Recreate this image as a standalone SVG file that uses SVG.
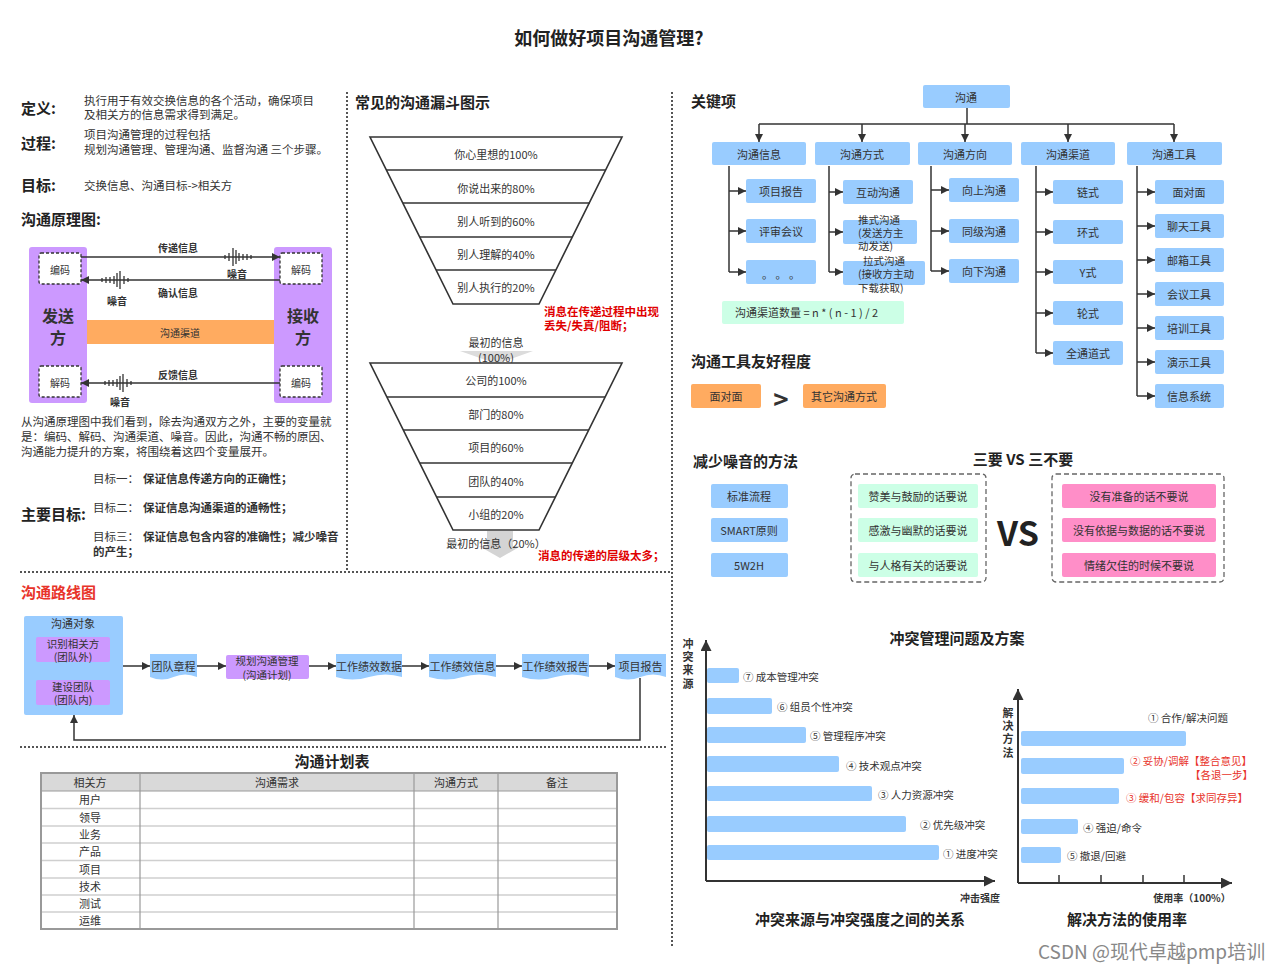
<svg xmlns="http://www.w3.org/2000/svg" width="1280" height="970" viewBox="0 0 1280 970">
<defs>
<style>
text{font-family:"Noto Sans CJK SC","Noto Sans",sans-serif;fill:#333;dominant-baseline:central}
.h{font-size:15px;font-weight:bold;fill:#222}
.s{font-size:11.5px}
.m{font-size:11px}
.sm{font-size:10.5px}
.xs{font-size:10px}
.bd{font-weight:bold}
.c{text-anchor:middle}
.vt{writing-mode:vertical-rl;letter-spacing:2.3px}
.blue{fill:#99ccff}
.purple{fill:#cc99ff}
.orange{fill:#ffab60}
.mint{fill:#ccffe6}
.pink{fill:#ff8ec8}
.ln{stroke:#333;stroke-width:1.5;fill:none}
.dot{stroke:#555;stroke-width:2;stroke-dasharray:2 2;fill:none}
.dash{stroke:#333;stroke-width:1.3;stroke-dasharray:3 2;fill:#fff}
.gdash{stroke:#666;stroke-width:1.3;stroke-dasharray:5 3;fill:none}
.red{fill:#e00000;font-weight:bold}
.fun{stroke:#333;stroke-width:1.6;fill:#fff}
.ax{stroke:#333;stroke-width:2;fill:none}
</style>
<marker id="ah" viewBox="0 0 10 10" refX="10" refY="5" markerWidth="8" markerHeight="8" markerUnits="userSpaceOnUse" orient="auto-start-reverse"><path d="M0,0 L10,5 L0,10 Z" fill="#333"/></marker>
<marker id="ahb" viewBox="0 0 10 10" refX="10" refY="5" markerWidth="11" markerHeight="11" markerUnits="userSpaceOnUse" orient="auto-start-reverse"><path d="M0,0 L10,5 L0,10 Z" fill="#333"/></marker>
<g id="noise" stroke="#333" stroke-width="1.3">
<line x1="0" y1="-2" x2="0" y2="2"/><line x1="4" y1="-4" x2="4" y2="4"/><line x1="8" y1="-9" x2="8" y2="9"/><line x1="11" y1="-7" x2="11" y2="7"/><line x1="14" y1="-4" x2="14" y2="4"/><line x1="18" y1="-3" x2="18" y2="3"/><line x1="22" y1="-3" x2="22" y2="3"/><line x1="26" y1="-2" x2="26" y2="2"/>
</g>
</defs>
<rect width="1280" height="970" fill="#fff"/>

<!-- title -->
<text x="609" y="37" class="c bd" style="font-size:18px;fill:#222">如何做好项目沟通管理?</text>

<!-- dividers -->
<g id="dividers">
<line class="dot" x1="347" y1="92" x2="347" y2="572"/>
<line class="dot" x1="672" y1="92" x2="672" y2="947"/>
<line class="dot" x1="20" y1="572" x2="672" y2="572"/>
<line class="dot" x1="20" y1="747" x2="668" y2="747"/>
</g>

<!-- definitions -->
<g id="definitions">
<text class="h" x="21" y="107">定义:</text>
<text class="s" x="84" y="100">执行用于有效交换信息的各个活动，确保项目</text>
<text class="s" x="84" y="114">及相关方的信息需求得到满足。</text>
<text class="h" x="21" y="142">过程:</text>
<text class="s" x="84" y="134">项目沟通管理的过程包括</text>
<text class="s" x="84" y="149">规划沟通管理、管理沟通、监督沟通 三个步骤。</text>
<text class="h" x="21" y="184">目标:</text>
<text class="s" x="84" y="185">交换信息、沟通目标-&gt;相关方</text>
<text class="h" x="21" y="218">沟通原理图:</text>
</g>

<!-- principle diagram -->
<g id="sender">
<rect class="purple" x="29" y="247" width="58" height="156" rx="3"/>
<text class="c bd" x="58" y="315" style="font-size:16px">发送</text>
<text class="c bd" x="58" y="337" style="font-size:16px">方</text>
</g>
<g id="receiver">
<rect class="purple" x="274" y="247" width="58" height="156" rx="3"/>
<text class="c bd" x="303" y="315" style="font-size:16px">接收</text>
<text class="c bd" x="303" y="337" style="font-size:16px">方</text>
</g>
<g id="encode-left"><rect class="dash" x="39" y="253" width="42" height="31" rx="2"/><text class="xs c" x="60" y="269">编码</text></g>
<g id="decode-left"><rect class="dash" x="39" y="366" width="42" height="31" rx="2"/><text class="xs c" x="60" y="382">解码</text></g>
<g id="decode-right"><rect class="dash" x="280" y="253" width="42" height="31" rx="2"/><text class="xs c" x="301" y="269">解码</text></g>
<g id="encode-right"><rect class="dash" x="280" y="366" width="42" height="31" rx="2"/><text class="xs c" x="301" y="382">编码</text></g>
<g id="channel"><rect class="orange" x="87" y="320" width="187" height="24"/><text class="xs c" x="180" y="332">沟通渠道</text></g>
<g id="principle-connectors">
<line class="ln" x1="81" y1="257" x2="280" y2="257" marker-end="url(#ah)"/>
<line class="ln" x1="280" y1="280" x2="81" y2="280" marker-end="url(#ah)"/>
<line class="ln" x1="280" y1="383" x2="81" y2="383" marker-end="url(#ah)"/>
<use href="#noise" x="225" y="257"/>
<use href="#noise" transform="translate(128,280) scale(-1,1)"/>
<use href="#noise" transform="translate(131,383) scale(-1,1)"/>
<text class="xs c bd" x="178" y="247">传递信息</text>
<text class="xs c bd" x="237" y="273">噪音</text>
<text class="xs c bd" x="178" y="292">确认信息</text>
<text class="xs c bd" x="117" y="300">噪音</text>
<text class="xs c bd" x="178" y="374">反馈信息</text>
<text class="xs c bd" x="120" y="401">噪音</text>
</g>

<g id="explain">
<text class="s" x="21" y="421">从沟通原理图中我们看到，除去沟通双方之外，主要的变量就</text>
<text class="s" x="21" y="436">是：编码、解码、沟通渠道、噪音。因此，沟通不畅的原因、</text>
<text class="s" x="21" y="451">沟通能力提升的方案，将围绕着这四个变量展开。</text>
</g>
<g id="main-goals">
<text class="h" x="21" y="513">主要目标:</text>
<text class="s" x="93" y="478">目标一：</text><text class="s bd" x="143" y="478">保证信息传递方向的正确性；</text>
<text class="s" x="93" y="507">目标二：</text><text class="s bd" x="143" y="507">保证信息沟通渠道的通畅性；</text>
<text class="s" x="93" y="536">目标三：</text><text class="s bd" x="143" y="536">保证信息包含内容的准确性；减少噪音</text>
<text class="s bd" x="93" y="551">的产生；</text>
</g>

<!-- funnel 1 -->
<text class="h" x="355" y="101">常见的沟通漏斗图示</text>
<g id="funnel1">
<polygon class="fun" points="370,137 622,137 539,304 453,304"/>
<line class="ln" x1="386" y1="170" x2="606" y2="170"/>
<line class="ln" x1="403" y1="203" x2="590" y2="203"/>
<line class="ln" x1="420" y1="237" x2="572" y2="237"/>
<line class="ln" x1="436" y1="270" x2="556" y2="270"/>
<text class="m c" x="496" y="154">你心里想的100%</text>
<text class="m c" x="496" y="188">你说出来的80%</text>
<text class="m c" x="496" y="221">别人听到的60%</text>
<text class="m c" x="496" y="254">别人理解的40%</text>
<text class="m c" x="496" y="287">别人执行的20%</text>
</g>
<text class="s red" x="544" y="311">消息在传递过程中出现</text>
<text class="s red" x="544" y="325">丢失/失真/阻断；</text>

<!-- funnel 2 -->
<g id="funnel2">
<polygon points="460,351 533,351 497,364" fill="#dcdcdc"/>
<text class="m c" x="496" y="342">最初的信息</text>
<text class="m c" x="496" y="357">(100%)</text>
<polygon class="fun" points="370,363 622,363 539,530 453,530"/>
<line class="ln" x1="387" y1="397" x2="605" y2="397"/>
<line class="ln" x1="403" y1="430" x2="589" y2="430"/>
<line class="ln" x1="420" y1="463" x2="572" y2="463"/>
<line class="ln" x1="437" y1="497" x2="555" y2="497"/>
<text class="m c" x="496" y="380">公司的100%</text>
<text class="m c" x="496" y="414">部门的80%</text>
<text class="m c" x="496" y="447">项目的60%</text>
<text class="m c" x="496" y="481">团队的40%</text>
<text class="m c" x="496" y="514">小组的20%</text>
<polygon points="487,531 513,531 513,546 521,546 500,558 479,546 487,546" fill="#d4d4d4"/>
<text class="m c" x="496" y="543">最初的信息（20%）</text>
</g>
<text class="s red" x="538" y="555">消息的传递的层级太多；</text>

<!-- key items tree -->
<text class="h" x="691" y="100">关键项</text>
<g id="n-root"><rect class="blue" x="923" y="85" width="87" height="23" rx="2"/><text class="m c" x="966" y="97">沟通</text></g>
<g id="n-info"><rect class="blue" x="712" y="142" width="94" height="23" rx="2"/><text class="m c" x="759" y="154">沟通信息</text></g>
<g id="n-mode"><rect class="blue" x="815" y="142" width="95" height="23" rx="2"/><text class="m c" x="862" y="154">沟通方式</text></g>
<g id="n-dir"><rect class="blue" x="918" y="142" width="94" height="23" rx="2"/><text class="m c" x="965" y="154">沟通方向</text></g>
<g id="n-chan"><rect class="blue" x="1021" y="142" width="94" height="23" rx="2"/><text class="m c" x="1068" y="154">沟通渠道</text></g>
<g id="n-tool"><rect class="blue" x="1127" y="142" width="95" height="23" rx="2"/><text class="m c" x="1174" y="154">沟通工具</text></g>

<g id="n-info-sub">
<rect class="blue" x="746" y="179" width="70" height="24" rx="2"/><text class="m c" x="781" y="191">项目报告</text>
<rect class="blue" x="746" y="219" width="70" height="24" rx="2"/><text class="m c" x="781" y="231">评审会议</text>
<rect class="blue" x="746" y="260" width="70" height="24" rx="2"/><text class="m c" x="781" y="274">。 。 。</text>
</g>
<g id="n-mode-sub">
<rect class="blue" x="843" y="180" width="70" height="24" rx="2"/><text class="m c" x="878" y="192">互动沟通</text>
<rect class="blue" x="843" y="220" width="74" height="24" rx="2"/>
<text class="sm" x="858" y="219">推式沟通</text><text class="sm" x="858" y="232">(发送方主</text><text class="sm" x="858" y="245">动发送)</text>
<rect class="blue" x="843" y="261" width="82" height="24" rx="2"/>
<text class="sm" x="863" y="260">拉式沟通</text><text class="sm" x="858" y="273">(接收方主动</text><text class="sm" x="858" y="287">下载获取)</text>
</g>
<g id="n-dir-sub">
<rect class="blue" x="949" y="178" width="70" height="24" rx="2"/><text class="m c" x="984" y="190">向上沟通</text>
<rect class="blue" x="949" y="219" width="70" height="24" rx="2"/><text class="m c" x="984" y="231">同级沟通</text>
<rect class="blue" x="949" y="259" width="70" height="24" rx="2"/><text class="m c" x="984" y="271">向下沟通</text>
</g>
<g id="n-chan-sub">
<rect class="blue" x="1053" y="180" width="70" height="24" rx="2"/><text class="m c" x="1088" y="192">链式</text>
<rect class="blue" x="1053" y="220" width="70" height="24" rx="2"/><text class="m c" x="1088" y="232">环式</text>
<rect class="blue" x="1053" y="260" width="70" height="24" rx="2"/><text class="m c" x="1088" y="272">Y式</text>
<rect class="blue" x="1053" y="301" width="70" height="24" rx="2"/><text class="m c" x="1088" y="313">轮式</text>
<rect class="blue" x="1053" y="341" width="70" height="24" rx="2"/><text class="m c" x="1088" y="353">全通道式</text>
</g>
<g id="n-tool-sub">
<rect class="blue" x="1155" y="180" width="69" height="24" rx="2"/><text class="m c" x="1189" y="192">面对面</text>
<rect class="blue" x="1155" y="214" width="69" height="24" rx="2"/><text class="m c" x="1189" y="226">聊天工具</text>
<rect class="blue" x="1155" y="248" width="69" height="24" rx="2"/><text class="m c" x="1189" y="260">邮箱工具</text>
<rect class="blue" x="1155" y="282" width="69" height="24" rx="2"/><text class="m c" x="1189" y="294">会议工具</text>
<rect class="blue" x="1155" y="316" width="69" height="24" rx="2"/><text class="m c" x="1189" y="328">培训工具</text>
<rect class="blue" x="1155" y="350" width="69" height="24" rx="2"/><text class="m c" x="1189" y="362">演示工具</text>
<rect class="blue" x="1155" y="384" width="69" height="24" rx="2"/><text class="m c" x="1189" y="396">信息系统</text>
</g>

<g id="tree-connectors">
<path class="ln" d="M967,108 V124 M759,124 H1174"/>
<line class="ln" x1="759" y1="124" x2="759" y2="142" marker-end="url(#ah)"/>
<line class="ln" x1="862" y1="124" x2="862" y2="142" marker-end="url(#ah)"/>
<line class="ln" x1="965" y1="124" x2="965" y2="142" marker-end="url(#ah)"/>
<line class="ln" x1="1068" y1="124" x2="1068" y2="142" marker-end="url(#ah)"/>
<line class="ln" x1="1174" y1="124" x2="1174" y2="142" marker-end="url(#ah)"/>
<path class="ln" d="M729,166 V272"/>
<line class="ln" x1="729" y1="191" x2="746" y2="191" marker-end="url(#ah)"/>
<line class="ln" x1="729" y1="231" x2="746" y2="231" marker-end="url(#ah)"/>
<line class="ln" x1="729" y1="272" x2="746" y2="272" marker-end="url(#ah)"/>
<path class="ln" d="M829,166 V272"/>
<line class="ln" x1="829" y1="192" x2="843" y2="192" marker-end="url(#ah)"/>
<line class="ln" x1="829" y1="232" x2="843" y2="232" marker-end="url(#ah)"/>
<line class="ln" x1="829" y1="272" x2="843" y2="272" marker-end="url(#ah)"/>
<path class="ln" d="M931,166 V271"/>
<line class="ln" x1="931" y1="190" x2="949" y2="190" marker-end="url(#ah)"/>
<line class="ln" x1="931" y1="231" x2="949" y2="231" marker-end="url(#ah)"/>
<line class="ln" x1="931" y1="271" x2="949" y2="271" marker-end="url(#ah)"/>
<path class="ln" d="M1036,166 V353"/>
<line class="ln" x1="1036" y1="192" x2="1053" y2="192" marker-end="url(#ah)"/>
<line class="ln" x1="1036" y1="232" x2="1053" y2="232" marker-end="url(#ah)"/>
<line class="ln" x1="1036" y1="272" x2="1053" y2="272" marker-end="url(#ah)"/>
<line class="ln" x1="1036" y1="313" x2="1053" y2="313" marker-end="url(#ah)"/>
<line class="ln" x1="1036" y1="353" x2="1053" y2="353" marker-end="url(#ah)"/>
<path class="ln" d="M1137,166 V396"/>
<line class="ln" x1="1137" y1="192" x2="1155" y2="192" marker-end="url(#ah)"/>
<line class="ln" x1="1137" y1="226" x2="1155" y2="226" marker-end="url(#ah)"/>
<line class="ln" x1="1137" y1="260" x2="1155" y2="260" marker-end="url(#ah)"/>
<line class="ln" x1="1137" y1="294" x2="1155" y2="294" marker-end="url(#ah)"/>
<line class="ln" x1="1137" y1="328" x2="1155" y2="328" marker-end="url(#ah)"/>
<line class="ln" x1="1137" y1="362" x2="1155" y2="362" marker-end="url(#ah)"/>
<line class="ln" x1="1137" y1="396" x2="1155" y2="396" marker-end="url(#ah)"/>
</g>

<g id="formula"><rect class="mint" x="722" y="301" width="182" height="23" rx="2"/><text class="m" x="735" y="312">沟通渠道数量 = n * ( n - 1 ) / 2</text></g>

<text class="h" x="691" y="360">沟通工具友好程度</text>
<g id="friendly">
<rect class="orange" x="691" y="384" width="70" height="24" rx="2"/><text class="m c" x="726" y="396">面对面</text>
<text class="c bd" x="781" y="397" style="font-size:26px">&gt;</text>
<rect class="orange" x="803" y="384" width="83" height="24" rx="2"/><text class="m c" x="844" y="396">其它沟通方式</text>
</g>

<!-- noise reduction -->
<text class="h" x="693" y="460">减少噪音的方法</text>
<g id="noise-methods">
<rect class="blue" x="711" y="484" width="77" height="24" rx="2"/><text class="m c" x="749" y="496">标准流程</text>
<rect class="blue" x="711" y="518" width="77" height="24" rx="2"/><text class="m c" x="749" y="530">SMART原则</text>
<rect class="blue" x="711" y="553" width="77" height="24" rx="2"/><text class="m c" x="749" y="565">5W2H</text>
</g>

<text class="h c" x="1023" y="458">三要 VS 三不要</text>
<g id="three-do">
<rect class="gdash" x="851" y="474" width="135" height="108" rx="4"/>
<rect class="mint" x="858" y="484" width="120" height="24" rx="2"/><text class="m c" x="918" y="496">赞美与鼓励的话要说</text>
<rect class="mint" x="858" y="518" width="120" height="24" rx="2"/><text class="m c" x="918" y="530">感激与幽默的话要说</text>
<rect class="mint" x="858" y="553" width="120" height="24" rx="2"/><text class="m c" x="918" y="565">与人格有关的话要说</text>
</g>
<text class="c bd" x="1018" y="531" style="font-size:34px;fill:#222">VS</text>
<g id="three-dont">
<rect class="gdash" x="1052" y="474" width="172" height="108" rx="4"/>
<rect class="pink" x="1062" y="484" width="154" height="24" rx="2"/><text class="m c" x="1139" y="496">没有准备的话不要说</text>
<rect class="pink" x="1062" y="518" width="154" height="24" rx="2"/><text class="m c" x="1139" y="530">没有依据与数据的话不要说</text>
<rect class="pink" x="1062" y="553" width="154" height="24" rx="2"/><text class="m c" x="1139" y="565">情绪欠佳的时候不要说</text>
</g>

<!-- roadmap -->
<text class="h" x="21" y="591" style="fill:#e8332a">沟通路线图</text>
<g id="r-target">
<rect class="blue" x="24" y="616" width="99" height="99" rx="2"/>
<text class="m c" x="73" y="623">沟通对象</text>
<rect class="purple" x="36" y="637" width="74" height="25" rx="2"/>
<text class="sm c" x="73" y="643">识别相关方</text><text class="sm c" x="73" y="656">(团队外)</text>
<rect class="purple" x="36" y="680" width="74" height="25" rx="2"/>
<text class="sm c" x="73" y="686">建设团队</text><text class="sm c" x="73" y="699">(团队内)</text>
</g>
<g id="r-charter"><path class="blue" d="M150,654 H197 V677 Q185,672 173.5,677 T150,677 Z"/><text class="m c" x="173.5" y="666">团队章程</text></g>
<g id="r-plan"><rect class="purple" x="226" y="655" width="83" height="24" rx="2"/><text class="sm c" x="267" y="660">规划沟通管理</text><text class="sm c" x="267" y="674">(沟通计划)</text></g>
<g id="r-data"><path class="blue" d="M336,654 H402 V677 Q385.5,672 369,677 T336,677 Z"/><text class="m c" x="369" y="666">工作绩效数据</text></g>
<g id="r-info"><path class="blue" d="M429,654 H496 V677 Q479,672 462.5,677 T429,677 Z"/><text class="m c" x="462.5" y="666">工作绩效信息</text></g>
<g id="r-report"><path class="blue" d="M522,654 H589 V677 Q572,672 555.5,677 T522,677 Z"/><text class="m c" x="555.5" y="666">工作绩效报告</text></g>
<g id="r-proj"><path class="blue" d="M615,654 H666 V677 Q653,672 640.5,677 T615,677 Z"/><text class="m c" x="640.5" y="666">项目报告</text></g>
<g id="roadmap-connectors">
<line class="ln" x1="123" y1="666" x2="150" y2="666" marker-end="url(#ah)"/>
<line class="ln" x1="197" y1="666" x2="226" y2="666" marker-end="url(#ah)"/>
<line class="ln" x1="309" y1="666" x2="336" y2="666" marker-end="url(#ah)"/>
<line class="ln" x1="402" y1="666" x2="429" y2="666" marker-end="url(#ah)"/>
<line class="ln" x1="496" y1="666" x2="522" y2="666" marker-end="url(#ah)"/>
<line class="ln" x1="589" y1="666" x2="615" y2="666" marker-end="url(#ah)"/>
<path class="ln" d="M640,678 V740 H74 V715" marker-end="url(#ah)"/>
</g>

<!-- table -->
<text class="h c" x="332" y="760">沟通计划表</text>
<g id="plan-table">
<rect x="41" y="773" width="576" height="18" fill="#d9d9d9"/>
<g stroke="#cfcfcf" stroke-width="1.5">
<line x1="41" y1="808.5" x2="617" y2="808.5"/>
<line x1="41" y1="826" x2="617" y2="826"/>
<line x1="41" y1="843" x2="617" y2="843"/>
<line x1="41" y1="860.5" x2="617" y2="860.5"/>
<line x1="41" y1="878" x2="617" y2="878"/>
<line x1="41" y1="895" x2="617" y2="895"/>
<line x1="41" y1="912" x2="617" y2="912"/>
</g>
<line x1="41" y1="791" x2="617" y2="791" stroke="#999" stroke-width="1.2"/>
<g stroke="#999" stroke-width="1.2">
<line x1="140" y1="773" x2="140" y2="929"/>
<line x1="414" y1="773" x2="414" y2="929"/>
<line x1="498" y1="773" x2="498" y2="929"/>
</g>
<rect x="41" y="773" width="576" height="156" fill="none" stroke="#999" stroke-width="2"/>
<text class="m c" x="90" y="782">相关方</text>
<text class="m c" x="277" y="782">沟通需求</text>
<text class="m c" x="456" y="782">沟通方式</text>
<text class="m c" x="557" y="782">备注</text>
<text class="m c" x="90" y="799">用户</text>
<text class="m c" x="90" y="817">领导</text>
<text class="m c" x="90" y="834">业务</text>
<text class="m c" x="90" y="851">产品</text>
<text class="m c" x="90" y="869">项目</text>
<text class="m c" x="90" y="886">技术</text>
<text class="m c" x="90" y="903">测试</text>
<text class="m c" x="90" y="920">运维</text>
</g>

<!-- conflict -->
<text class="h c" x="957" y="637">冲突管理问题及方案</text>
<g id="conflict-source">
<text class="m bd vt" x="688" y="638">冲突来源</text>
<path class="ax" d="M706,881 V640" marker-end="url(#ahb)"/>
<path class="ax" d="M706,881 H995" marker-end="url(#ahb)"/>
<rect class="blue" x="707" y="668" width="32" height="15" rx="2"/><text class="sm" x="743" y="676">⑦ 成本管理冲突</text>
<rect class="blue" x="707" y="698" width="65" height="16" rx="2"/><text class="sm" x="777" y="706">⑥ 组员个性冲突</text>
<rect class="blue" x="707" y="727" width="99" height="16" rx="2"/><text class="sm" x="810" y="735">⑤ 管理程序冲突</text>
<rect class="blue" x="707" y="756" width="132" height="16" rx="2"/><text class="sm" x="846" y="765">④ 技术观点冲突</text>
<rect class="blue" x="707" y="786" width="165" height="15" rx="2"/><text class="sm" x="878" y="794">③ 人力资源冲突</text>
<rect class="blue" x="707" y="816" width="199" height="16" rx="2"/><text class="sm" x="920" y="824">② 优先级冲突</text>
<rect class="blue" x="707" y="845" width="232" height="15" rx="2"/><text class="sm" x="943" y="853">① 进度冲突</text>
<text class="xs bd c" x="980" y="897">冲击强度</text>
<text class="h c" x="860" y="918">冲突来源与冲突强度之间的关系</text>
</g>

<g id="resolution">
<text class="m bd vt" x="1008" y="707">解决方法</text>
<path class="ax" d="M1018,883 V689" marker-end="url(#ahb)"/>
<path class="ax" d="M1018,883 H1232" marker-end="url(#ahb)"/>
<g stroke="#333" stroke-width="1.5"><line x1="1059" y1="883" x2="1059" y2="875"/><line x1="1101" y1="883" x2="1101" y2="875"/><line x1="1143" y1="883" x2="1143" y2="875"/><line x1="1184" y1="883" x2="1184" y2="875"/></g>
<rect class="blue" x="1021" y="731" width="165" height="15" rx="2"/><text class="sm" x="1148" y="717">① 合作/解决问题</text>
<rect class="blue" x="1021" y="758" width="103" height="16" rx="2"/><text class="sm" x="1130" y="760" style="fill:#e8332a">② 妥协/调解【整合意见】</text><text class="sm" x="1190" y="774" style="fill:#e8332a">【各退一步】</text>
<rect class="blue" x="1021" y="788" width="98" height="16" rx="2"/><text class="sm" x="1126" y="797" style="fill:#e8332a">③ 缓和/包容【求同存异】</text>
<rect class="blue" x="1021" y="819" width="57" height="15" rx="2"/><text class="sm" x="1083" y="827">④ 强迫/命令</text>
<rect class="blue" x="1021" y="847" width="40" height="16" rx="2"/><text class="sm" x="1067" y="855">⑤ 撤退/回避</text>
<text class="xs bd c" x="1192" y="897">使用率（100%）</text>
<text class="h c" x="1127" y="918">解决方法的使用率</text>
</g>

<text x="1038" y="950" style="font-size:19px;fill:#888">CSDN @现代卓越pmp培训</text>
</svg>
